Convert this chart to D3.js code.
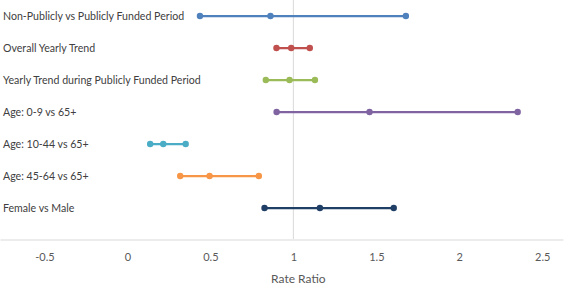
<!doctype html>
<html>
  <head>
    <meta charset="utf-8">
    <script src="https://d3js.org/d3.v7.min.js"></script>
    <style>
      body { margin: 0; background: #fff; }
      text { font-family: Lato, "Open Sans", "Liberation Sans", sans-serif; }
    </style>
  </head>
  <body>
    <div id="chart"></div>
    <script>
      // rows, top to bottom
      var labels = [
        "Non-Publicly vs Publicly Funded Period",
        "Overall Yearly Trend",
        "Yearly Trend during Publicly Funded Period",
        "Age: 0-9 vs 65+",
        "Age: 10-44 vs 65+",
        "Age: 45-64 vs 65+",
        "Female vs Male"
      ];
      var lower = [0.437, 0.898, 0.834, 0.899, 0.137, 0.318, 0.826];
      var estimate = [0.862, 0.987, 0.977, 1.459, 0.216, 0.495, 1.16];
      var upper = [1.678, 1.099, 1.13, 2.352, 0.351, 0.792, 1.605];
      var colors = ["#4f81bd", "#c0504d", "#9bbb59", "#8064a2", "#4bacc6", "#f79646", "#1f3f66"];
      var ticks = [-0.5, 0, 0.5, 1, 1.5, 2, 2.5];

      var width = 567, height = 287;

      var svg = d3.select("#chart").append("svg")
        .attr("width", width)
        .attr("height", height);

      var x = d3.scaleLinear().domain([-0.768, 2.625]).range([0, 563]);
      var y = d3.scalePoint().domain(labels).range([16, 208]);

      // reference line at 1
      svg.append("line")
        .attr("x1", x(1)).attr("x2", x(1))
        .attr("y1", 0).attr("y2", 239)
        .attr("stroke", "#d9d9d9").attr("stroke-width", 1);

      // x axis
      var xAxis = d3.axisBottom(x).tickValues(ticks).tickSize(0).tickPadding(14)
        .tickFormat(function(d) { return String(d); });
      var gx = svg.append("g")
        .attr("transform", "translate(0,239.5)")
        .call(xAxis);
      gx.select(".domain").attr("stroke", "#d9d9d9");
      gx.selectAll("text")
        .attr("fill", "#595959")
        .style("font-family", "Lato, sans-serif")
        .style("font-size", "11px");

      svg.append("text")
        .attr("x", x(1) + 5)
        .attr("y", 283)
        .attr("text-anchor", "middle")
        .attr("fill", "#595959")
        .style("font-size", "12px")
        .text("Rate Ratio");

      // row labels
      svg.selectAll(".rowLabel")
        .data(labels)
        .enter().append("text")
        .attr("class", "rowLabel")
        .attr("x", 3)
        .attr("y", function(d) { return y(d); })
        .attr("dy", "0.35em")
        .attr("fill", "#404040")
        .style("font-size", "10.6px")
        .text(function(d) { return d; });

      // intervals
      var rows = labels.map(function(l, i) {
        return {label: l, lo: lower[i], est: estimate[i], hi: upper[i], color: colors[i]};
      });

      var g = svg.selectAll(".row")
        .data(rows)
        .enter().append("g")
        .attr("class", "row");

      g.append("line")
        .attr("x1", function(d) { return x(d.lo); })
        .attr("x2", function(d) { return x(d.hi); })
        .attr("y1", function(d) { return y(d.label); })
        .attr("y2", function(d) { return y(d.label); })
        .attr("stroke", function(d) { return d.color; })
        .attr("stroke-width", 2.25);

      g.selectAll("circle")
        .data(function(d) {
          return [d.lo, d.est, d.hi].map(function(v) { return {v: v, label: d.label, color: d.color}; });
        })
        .enter().append("circle")
        .attr("cx", function(d) { return x(d.v); })
        .attr("cy", function(d) { return y(d.label); })
        .attr("r", 3.2)
        .attr("fill", function(d) { return d.color; });
    </script>
  </body>
</html>
